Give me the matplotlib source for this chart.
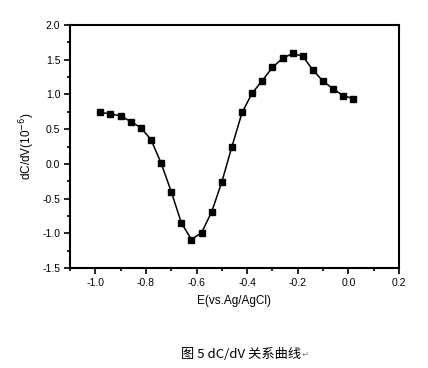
import matplotlib.pyplot as plt
from matplotlib.ticker import MultipleLocator

plt.rcParams['font.family'] = ['Liberation Sans', 'DejaVu Sans']
plt.rcParams['axes.unicode_minus'] = False

# potential E (V vs Ag/AgCl) and dC/dV (10^-6)
potential = [-0.98, -0.94, -0.90, -0.86, -0.82, -0.78, -0.74, -0.70, -0.66,
             -0.62, -0.58, -0.54, -0.50, -0.46, -0.42, -0.38, -0.34, -0.30,
             -0.26, -0.22, -0.18, -0.14, -0.10, -0.06, -0.02, 0.02]
dcdv = [0.74, 0.72, 0.69, 0.61, 0.52, 0.35, 0.01, -0.40, -0.85,
        -1.09, -0.99, -0.69, -0.26, 0.25, 0.74, 1.02, 1.20, 1.39,
        1.52, 1.59, 1.55, 1.35, 1.19, 1.08, 0.98, 0.94]

fig = plt.figure(figsize=(4.28, 3.68), dpi=100)
ax = fig.add_axes([70/428, 1-268/368, 329/428, 243/368])

ax.plot(potential, dcdv, color='black', lw=1.1, marker='s', ms=5)

ax.set_xlim(-1.1, 0.2)
ax.set_ylim(-1.5, 2.0)
ax.xaxis.set_major_locator(MultipleLocator(0.2))
ax.xaxis.set_minor_locator(MultipleLocator(0.1))
ax.yaxis.set_major_locator(MultipleLocator(0.5))
ax.yaxis.set_minor_locator(MultipleLocator(0.25))
ax.xaxis.set_major_formatter(lambda v, p: f'{v:.1f}')
ax.yaxis.set_major_formatter(lambda v, p: f'{v:.1f}')
ax.tick_params(which='major', direction='out', length=4, width=1.2, labelsize=7.5, pad=3)
ax.tick_params(which='minor', direction='out', length=2.5, width=1.2)
for s in ax.spines.values():
    s.set_linewidth(1.5)

ax.set_xlabel('E(vs.Ag/AgCl)', fontsize=8.5, labelpad=5)
ax.set_ylabel('dC/dV(10$^{-6}$)', fontsize=8.5, labelpad=4)

cap = fig.text(181/428, 1-354/368, '图 5 dC/dV 关系曲线', fontsize=9.5, va='center',
               family=['Noto Sans CJK SC', 'DejaVu Sans'])
ax.annotate('↵', xy=(1, 0.5), xycoords=cap, va='center', ha='left',
            fontsize=6, color='gray', family=['DejaVu Sans'])

fig.savefig('out.png', dpi=100)
